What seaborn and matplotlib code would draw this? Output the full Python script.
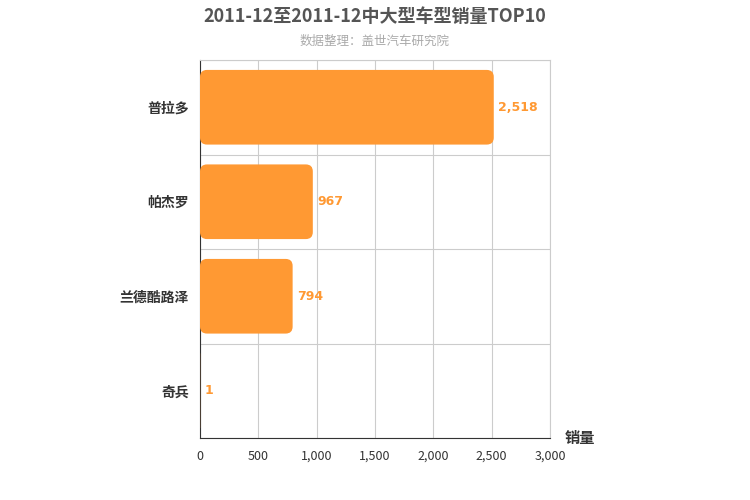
import matplotlib
matplotlib.use("Agg")
import matplotlib.pyplot as plt
import seaborn as sns
import pandas as pd
from matplotlib.patches import FancyBboxPatch

models = ["普拉多", "帕杰罗", "兰德酷路泽", "奇兵"]
sales = [2518, 967, 794, 1]
xticks = [0, 500, 1000, 1500, 2000, 2500, 3000]

sns.set_style("white")
plt.rcParams['font.family'] = ['Noto Sans CJK SC', 'DejaVu Sans']

df = pd.DataFrame({"model": models, "sales": sales})
fig = plt.figure(figsize=(7.5, 5), dpi=100)
ax = fig.add_axes([200/750, 1-438/500, 350/750, 378/500])
sns.barplot(data=df, x="sales", y="model", ax=ax, color="#FF9933", width=0.79, saturation=1)

color = "#FF9933"
for p in list(ax.patches):
    x0, y0, w, h = p.get_x(), p.get_y(), p.get_width(), p.get_height()
    p.remove()
    r = 60
    fb = FancyBboxPatch((x0 + r*0.0, y0), max(w, 0.0), h,
                        boxstyle=f"round,pad=0,rounding_size={min(r, w/2) if w > 0 else 0}",
                        mutation_aspect=0.00123, fc=color, ec="none", zorder=3)
    ax.add_patch(fb)

for i, v in enumerate(sales):
    ax.text(v + 40, i, f"{v:,}", va="center", ha="left", color=color,
            fontsize=9, fontweight="bold", family="DejaVu Sans", zorder=4)

ax.set_xlim(0, 3000)
ax.set_ylim(3.5, -0.5)
ax.set_xticks(xticks)
ax.set_xticklabels([f"{t:,}" for t in xticks], fontsize=9, color="#333333")
ax.set_yticks(range(len(models)))
ax.set_yticklabels(models, fontsize=10, fontweight="bold", color="#333333")
ax.tick_params(axis="y", length=0, pad=8)
ax.set_yticks([-0.5, 0.5, 1.5, 2.5, 3.5], minor=True)
ax.tick_params(axis="y", which="minor", length=5, color="#333333", direction="out")
ax.tick_params(axis="x", length=5, color="#333333")
ax.grid(True, axis="x", color="#cccccc", lw=0.8, zorder=0)
ax.grid(True, axis="y", which="minor", color="#cccccc", lw=0.8, zorder=0)
ax.set_axisbelow(True)
ax.set_xlabel("")
ax.set_ylabel("")
for s in ["top", "right"]:
    ax.spines[s].set_color("#cccccc")
for s in ["left", "bottom"]:
    ax.spines[s].set_color("#333333")

fig.text(0.5, 1-16/500, "2011-12至2011-12中大型车型销量TOP10", ha="center", va="center",
         fontsize=13, fontweight="bold", color="#555555")
fig.text(0.5, 1-41/500, "数据整理：盖世汽车研究院", ha="center", va="center",
         fontsize=9, color="#aaaaaa")
fig.text(565/750, 1-438/500, "销量", ha="left", va="center", fontsize=11,
         fontweight="bold", color="#333333")

fig.savefig("out.png", dpi=100)
